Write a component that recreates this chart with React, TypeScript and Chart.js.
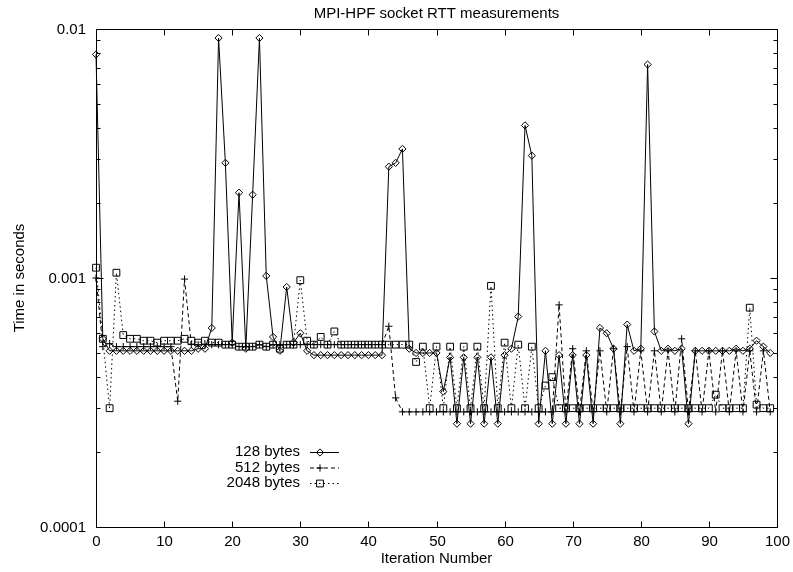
import React, { useEffect, useRef } from 'react';
import { Chart, registerables } from 'chart.js';

Chart.register(...registerables);

const titleText = 'MPI-HPF socket RTT measurements';
const xTitle = 'Iteration Number';
const yTitle = 'Time in seconds';

const seriesNames = ['128 bytes', '512 bytes', '2048 bytes'];

const bytes128 = [
  0.0079, 0.00057, 0.00051, 0.00051, 0.00051, 0.00051, 0.00051, 0.00051, 0.00051, 0.00051,
  0.00051, 0.00051, 0.00051, 0.00051, 0.00051, 0.00052, 0.00052, 0.00063, 0.0092, 0.0029,
  0.00055, 0.0022, 0.00052, 0.00216, 0.0092, 0.00102, 0.00058, 0.00051, 0.00092, 0.00055,
  0.0006, 0.00051, 0.00049, 0.00049, 0.00049, 0.00049, 0.00049, 0.00049, 0.00049, 0.00049,
  0.00049, 0.00049, 0.00049, 0.0028, 0.0029, 0.0033, 0.00052, 0.0005, 0.0005, 0.0005,
  0.0005, 0.00035, 0.00048, 0.00026, 0.00048, 0.00026, 0.00048, 0.00026, 0.00048, 0.00026,
  0.00049, 0.00052, 0.0007, 0.0041, 0.0031, 0.00026, 0.00051, 0.00026, 0.00049, 0.00026,
  0.00049, 0.00026, 0.00049, 0.00026, 0.00063, 0.0006, 0.00052, 0.00026, 0.00065, 0.00051,
  0.00052, 0.0072, 0.00061, 0.00051, 0.00052, 0.00051, 0.00052, 0.00026, 0.00051, 0.00051,
  0.00051, 0.00051, 0.00051, 0.00051, 0.00052, 0.00051, 0.00052, 0.00056, 0.00053, 0.0005,
];

const bytes512 = [
  0.001, 0.00053, 0.000545, 0.00053, 0.00053, 0.00053, 0.00053, 0.00053, 0.00053, 0.00053,
  0.00053, 0.00053, 0.00032, 0.00099, 0.00054, 0.00054, 0.00054, 0.00054, 0.00054, 0.00054,
  0.00054, 0.00053, 0.00053, 0.00053, 0.00054, 0.00053, 0.00054, 0.00054, 0.00054, 0.00054,
  0.00054, 0.00054, 0.00054, 0.00054, 0.00054, 0.00054, 0.00054, 0.00054, 0.00054, 0.00054,
  0.00054, 0.00054, 0.00054, 0.00064, 0.00033, 0.00029, 0.00029, 0.00029, 0.00029, 0.00029,
  0.00029, 0.00029, 0.00029, 0.00029, 0.00029, 0.00029, 0.00029, 0.00029, 0.00029, 0.00029,
  0.00029, 0.00029, 0.00029, 0.00029, 0.00029, 0.00029, 0.00029, 0.00029, 0.00078, 0.00029,
  0.00052, 0.00029, 0.00051, 0.00029, 0.00051, 0.00029, 0.00052, 0.00029, 0.00053, 0.00029,
  0.00051, 0.00029, 0.00051, 0.00029, 0.00051, 0.00029, 0.00057, 0.00029, 0.00051, 0.00029,
  0.00051, 0.00029, 0.00051, 0.00029, 0.00051, 0.00029, 0.00051, 0.00029, 0.00051, 0.00029,
];

const bytes2048 = [
  0.0011, 0.00057, 0.0003, 0.00105, 0.00059, 0.00057, 0.00057, 0.00056, 0.00056, 0.00055,
  0.00056, 0.00056, 0.00056, 0.00057, 0.00056, 0.00055, 0.00056, 0.00055, 0.00055, 0.00054,
  0.00054, 0.00053, 0.00053, 0.00053, 0.00054, 0.00053, 0.00054, 0.00052, 0.00054, 0.00054,
  0.00098, 0.00056, 0.00054, 0.00058, 0.00054, 0.00061, 0.00054, 0.00054, 0.00054, 0.00054,
  0.00054, 0.00054, 0.00054, 0.00054, 0.00054, 0.00054, 0.00054, 0.00046, 0.00053, 0.0003,
  0.00053, 0.0003, 0.00053, 0.0003, 0.00053, 0.0003, 0.00053, 0.0003, 0.00093, 0.0003,
  0.00055, 0.0003, 0.00054, 0.0003, 0.00053, 0.0003, 0.00037, 0.0004, 0.0003, 0.0003,
  0.0003, 0.0003, 0.0003, 0.0003, 0.0003, 0.0003, 0.0003, 0.0003, 0.0003, 0.0003,
  0.0003, 0.0003, 0.0003, 0.0003, 0.0003, 0.0003, 0.0003, 0.0003, 0.0003, 0.0003,
  0.0003, 0.00034, 0.0003, 0.0003, 0.0003, 0.0003, 0.00076, 0.00031, 0.0003, 0.0003,
];

const iterations = bytes128.map((_, i) => i);

const xTickValues = [0, 10, 20, 30, 40, 50, 60, 70, 80, 90, 100];
const yTickValues = [0.0001, 0.001, 0.01];
const yTickLabels = ['0.0001', '0.001', '0.01'];
const yMinorMultipliers = [2, 3, 4, 5, 6, 7, 8, 9];

const FONT = '15px "Liberation Sans", Arial, Helvetica, sans-serif';
const pointStyles = ['rectRot', 'cross', 'rect'];
const pointRadii = [3.6, 3.6, 4.8];
const dashes: number[][] = [[], [4, 3], [1.5, 3]];

function drawMarker(ctx: CanvasRenderingContext2D, style: string, x: number, y: number, r: number) {
  ctx.beginPath();
  if (style === 'rectRot') {
    ctx.moveTo(x - r, y);
    ctx.lineTo(x, y - r);
    ctx.lineTo(x + r, y);
    ctx.lineTo(x, y + r);
    ctx.closePath();
  } else if (style === 'cross') {
    ctx.moveTo(x - r, y);
    ctx.lineTo(x + r, y);
    ctx.moveTo(x, y - r);
    ctx.lineTo(x, y + r);
  } else {
    const s = Math.SQRT1_2 * r;
    ctx.rect(x - s, y - s, 2 * s, 2 * s);
  }
  ctx.stroke();
}

const framePlugin = {
  id: 'gnuplotFrame',
  afterDatasetsDraw(chart: any) {
    const { ctx, chartArea: a, scales } = chart;
    const xs = scales.x;
    const ys = scales.y;
    ctx.save();
    ctx.strokeStyle = '#000';
    ctx.fillStyle = '#000';
    ctx.lineWidth = 1;
    ctx.setLineDash([]);
    const L = Math.round(a.left) + 0.5;
    const R = Math.round(a.right) + 0.5;
    const T = Math.round(a.top) + 0.5;
    const B = Math.round(a.bottom) + 0.5;
    ctx.strokeRect(L, T, R - L, B - T);

    ctx.font = FONT;
    // x ticks
    ctx.textAlign = 'center';
    ctx.textBaseline = 'middle';
    xTickValues.forEach((v) => {
      const px = Math.round(xs.getPixelForValue(v)) + 0.5;
      ctx.beginPath();
      ctx.moveTo(px, B);
      ctx.lineTo(px, B - 6);
      ctx.moveTo(px, T);
      ctx.lineTo(px, T + 6);
      ctx.stroke();
      ctx.fillText(String(v), px, a.bottom + 15);
    });

    // y ticks major
    ctx.textAlign = 'right';
    yTickValues.forEach((v, i) => {
      const py = Math.round(ys.getPixelForValue(v)) + 0.5;
      ctx.beginPath();
      ctx.moveTo(L, py);
      ctx.lineTo(L + 7, py);
      ctx.moveTo(R, py);
      ctx.lineTo(R - 7, py);
      ctx.stroke();
      ctx.fillText(yTickLabels[i], a.left - 10, py);
    });
    // y minor ticks
    yTickValues.slice(0, -1).forEach((d) => {
      yMinorMultipliers.forEach((m) => {
        const py = Math.round(ys.getPixelForValue(d * m)) + 0.5;
        ctx.beginPath();
        ctx.moveTo(L, py);
        ctx.lineTo(L + 4, py);
        ctx.moveTo(R, py);
        ctx.lineTo(R - 4, py);
        ctx.stroke();
      });
    });

    // titles
    const cx = (a.left + a.right) / 2;
    ctx.textAlign = 'center';
    ctx.fillText(titleText, cx, 13.5);
    ctx.fillText(xTitle, cx, 559);
    ctx.save();
    ctx.translate(20, (a.top + a.bottom) / 2);
    ctx.rotate(-Math.PI / 2);
    ctx.fillText(yTitle, 0, 0);
    ctx.restore();

    // legend
    const rows = [452, 467.5, 483];
    seriesNames.forEach((name, i) => {
      const yy = rows[i];
      ctx.textAlign = 'right';
      ctx.fillText(name, 300, yy);
      ctx.setLineDash(dashes[i]);
      ctx.beginPath();
      ctx.moveTo(310, yy + 0.5);
      ctx.lineTo(339, yy + 0.5);
      ctx.stroke();
      ctx.setLineDash([]);
      drawMarker(ctx, pointStyles[i], 320, yy + 0.5, pointRadii[i]);
    });
    ctx.restore();
  },
};

export default function App() {
  const ref = useRef<HTMLCanvasElement | null>(null);
  useEffect(() => {
    if (!ref.current) return;
    const all = [bytes128, bytes512, bytes2048];
    const chart = new Chart(ref.current, {
      type: 'line',
      data: {
        datasets: all.map((vals, si) => ({
          label: seriesNames[si],
          data: vals.map((v, i) => ({ x: iterations[i], y: v })),
          borderColor: '#000',
          borderWidth: 1,
          borderDash: dashes[si],
          pointStyle: pointStyles[si] as any,
          pointRadius: pointRadii[si],
          pointBorderColor: '#000',
          pointBorderWidth: 1,
          pointBackgroundColor: 'rgba(0,0,0,0)',
          fill: false,
          tension: 0,
          clip: false as any,
        })),
      },
      options: {
        responsive: false,
        animation: false,
        events: [],
        devicePixelRatio: 1,
        layout: { padding: { left: 96, right: 16, top: 29, bottom: 45 } },
        plugins: {
          legend: { display: false },
          title: { display: false },
          tooltip: { enabled: false },
        },
        scales: {
          x: { type: 'linear', min: 0, max: 100, display: false },
          y: { type: 'logarithmic', min: 0.0001, max: 0.01, display: false },
        },
      },
      plugins: [framePlugin],
    });
    return () => chart.destroy();
  }, []);
  return (
    <div style={{ position: 'absolute', left: 0, top: 0, width: 793, height: 572, background: '#fff' }}>
      <canvas ref={ref} width={793} height={572} style={{ display: 'block' }} />
    </div>
  );
}
